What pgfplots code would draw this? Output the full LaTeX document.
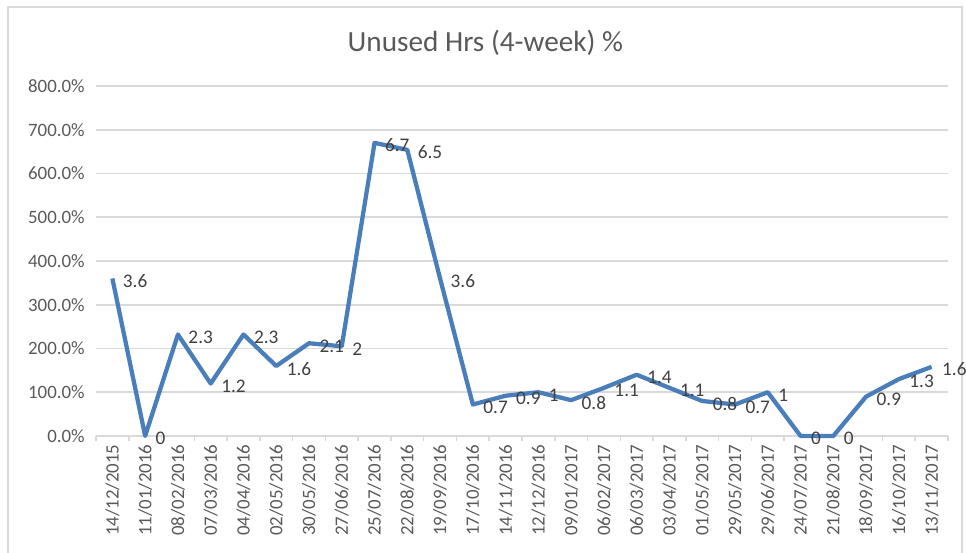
\documentclass[border=0pt]{standalone}
\usepackage{pgfplots}
\pgfplotsset{compat=1.18}
\usepackage{pgfplotstable}
\usepackage{fontspec}
\setmainfont{Carlito}
\definecolor{linecol}{HTML}{4A7EBB}
\definecolor{txt}{HTML}{595959}
\definecolor{lab}{HTML}{404040}
\definecolor{gridc}{HTML}{D9D9D9}

\pgfplotstableread{
x y lab
0 360 3.6
1 0 0
2 232 2.3
3 120 1.2
4 232 2.3
5 160 1.6
6 212 2.1
7 205 2
8 670 6.7
9 654 6.5
10 360 3.6
11 72 0.7
12 92 0.9
13 100 1
14 82 0.8
15 110 1.1
16 140 1.4
17 110 1.1
18 80 0.8
19 72 0.7
20 100 1
21 0 0
22 0 0
23 90 0.9
24 130 1.3
25 158 1.6
}\data

\begin{document}
\begin{tikzpicture}
\useasboundingbox (0,0) rectangle (724.5bp,414.75bp);
\draw[gridc, line width=1bp] (6bp,-5bp) -- (6bp,409.5bp) -- (721.5bp,409.5bp) -- (721.5bp,-5bp);
\node[text=txt, font=\fontsize{22}{26}\selectfont] at (364bp,382.5bp) {Unused Hrs (4-week) \%};
\begin{axis}[
  at={(72bp,87.75bp)}, anchor=south west,
  scale only axis, width=639bp, height=262.5bp,
  xmin=-0.5, xmax=25.5, ymin=0, ymax=800,
  clip=false,
  axis line style={draw=none},
  tick style={draw=none},
  tick pos=left,
  xtick={0,...,25},
  xticklabels={14/12/2015,11/01/2016,08/02/2016,07/03/2016,04/04/2016,02/05/2016,30/05/2016,27/06/2016,25/07/2016,22/08/2016,19/09/2016,17/10/2016,14/11/2016,12/12/2016,09/01/2017,06/02/2017,06/03/2017,03/04/2017,01/05/2017,29/05/2017,29/06/2017,24/07/2017,21/08/2017,18/09/2017,16/10/2017,13/11/2017},
  xticklabel style={rotate=90, anchor=east, font=\fontsize{14.2}{16}\selectfont, text=txt},
  xticklabel shift=3bp,
  ytick={0,100,...,800},
  yticklabel={\pgfmathprintnumber[fixed,fixed zerofill,precision=1]{\tick}\%},
  yticklabel style={font=\fontsize{14.2}{16}\selectfont, text=txt},
  yticklabel shift=5bp,
  /pgf/number format/assume math mode=true,
  ymajorgrids,
  grid style={gridc, line width=1.2bp},
  extra x ticks={-0.5,0.5,...,25.5},
  extra x tick labels={},
  extra x tick style={major tick length=4bp, tick align=outside, tick style={draw=gridc, line width=1.2bp}},
]
\addplot[linecol, line width=3.2bp, line join=round,
  nodes near coords, point meta=explicit symbolic,
  nodes near coords style={anchor=west, font=\fontsize{14.5}{16}\selectfont, text=lab, xshift=3bp, yshift=-2bp}]
  table[x=x, y=y, meta=lab] {\data};
\end{axis}
\end{tikzpicture}
\end{document}
